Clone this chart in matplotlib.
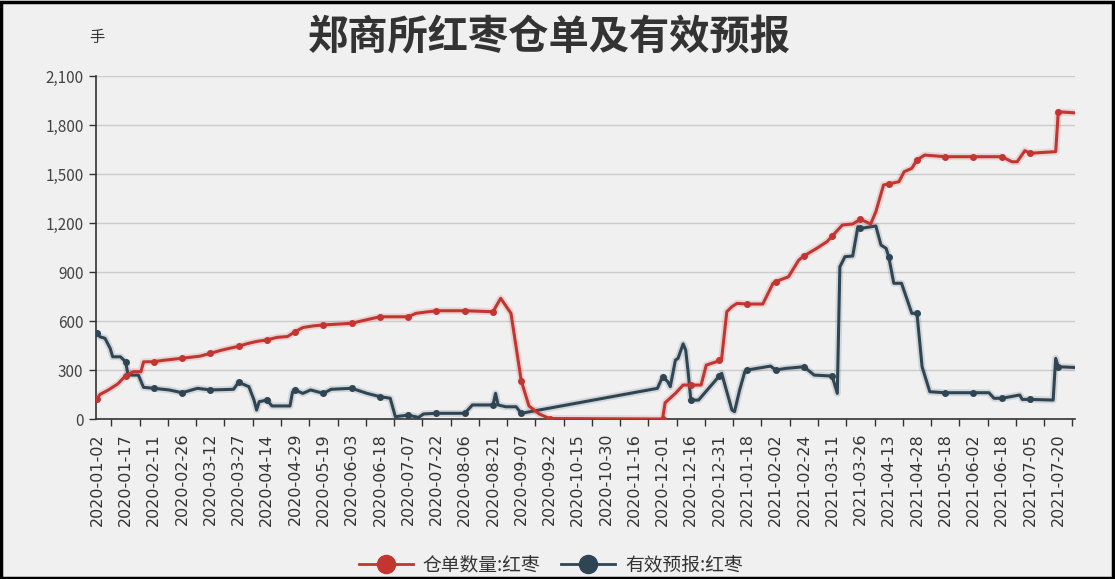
import numpy as np
import pandas as pd
import matplotlib
matplotlib.use("Agg")
import matplotlib.pyplot as plt
from matplotlib.lines import Line2D
from matplotlib.patches import Rectangle

plt.rcParams['font.family'] = ['Noto Sans CJK SC', 'DejaVu Sans']

# ---------------- data ----------------
title = "郑商所红枣仓单及有效预报"
unit = "手"
series_names = ["仓单数量:红枣", "有效预报:红枣"]

start_date = "2020-01-02"
end_date = "2021-07-28"
holidays = ["2020-01-24", "2020-01-27", "2020-01-28", "2020-01-29", "2020-01-30",
            "2020-01-31", "2020-04-06", "2020-05-01", "2020-05-04", "2020-05-05",
            "2020-06-25", "2020-06-26", "2020-10-01", "2020-10-02", "2020-10-05",
            "2020-10-06", "2020-10-07", "2020-10-08",
            "2021-01-01", "2021-02-11", "2021-02-12", "2021-02-15", "2021-02-16",
            "2021-02-17", "2021-04-05", "2021-05-03", "2021-05-04", "2021-05-05",
            "2021-06-14"]

warrant_dates = ["2020-01-02", "2020-01-03", "2020-01-08", "2020-01-14", "2020-01-17",
                 "2020-01-22", "2020-02-04", "2020-02-05", "2020-02-11", "2020-02-17",
                 "2020-02-26", "2020-03-06", "2020-03-12", "2020-03-18", "2020-03-24",
                 "2020-03-27", "2020-04-01", "2020-04-08", "2020-04-14", "2020-04-20",
                 "2020-04-24", "2020-04-29", "2020-05-07", "2020-05-13", "2020-05-19",
                 "2020-06-03", "2020-06-10", "2020-06-18", "2020-07-07", "2020-07-10",
                 "2020-07-22", "2020-08-06", "2020-08-21", "2020-08-26", "2020-09-01",
                 "2020-09-07", "2020-09-10", "2020-09-16", "2020-09-22", "2020-12-01",
                 "2020-12-02", "2020-12-08", "2020-12-11", "2020-12-16", "2020-12-22",
                 "2020-12-24", "2020-12-30", "2020-12-31", "2021-01-04", "2021-01-06",
                 "2021-01-08", "2021-01-12", "2021-01-18", "2021-01-26", "2021-02-01",
                 "2021-02-02", "2021-02-09", "2021-02-22", "2021-02-24", "2021-03-03",
                 "2021-03-09", "2021-03-11", "2021-03-17", "2021-03-23", "2021-03-26",
                 "2021-04-01", "2021-04-06", "2021-04-09", "2021-04-13", "2021-04-19",
                 "2021-04-21", "2021-04-26", "2021-04-28", "2021-05-06", "2021-05-18",
                 "2021-06-02", "2021-06-18", "2021-06-24", "2021-06-28", "2021-07-01",
                 "2021-07-05", "2021-07-19", "2021-07-20", "2021-07-28"]
warrant_values = [125, 150, 175, 215, 265,
                  290, 290, 350, 351, 360,
                  372, 385, 402, 420, 435,
                  445, 460, 475, 484, 500,
                  505, 535, 560, 570, 576,
                  586, 605, 626, 626, 647,
                  663, 663, 657, 739, 647,
                  234, 80, 31, 3, 0,
                  100, 157, 208, 208, 208,
                  330, 351, 361, 371, 657,
                  688, 708, 704, 704, 831,
                  841, 871, 973, 998, 1045,
                  1086, 1120, 1188, 1194, 1223,
                  1194, 1269, 1433, 1439, 1453,
                  1514, 1535, 1586, 1616, 1606,
                  1606, 1606, 1575, 1575, 1643,
                  1627, 1637, 1881, 1875]

forecast_dates = ["2020-01-02", "2020-01-03", "2020-01-07", "2020-01-09", "2020-01-10",
                  "2020-01-15", "2020-01-17", "2020-01-20", "2020-02-03", "2020-02-05",
                  "2020-02-11", "2020-02-19", "2020-02-26", "2020-03-05", "2020-03-12",
                  "2020-03-19", "2020-03-25", "2020-03-27", "2020-04-02", "2020-04-07",
                  "2020-04-08", "2020-04-09", "2020-04-14", "2020-04-16", "2020-04-27",
                  "2020-04-28", "2020-04-29", "2020-05-07", "2020-05-12", "2020-05-19",
                  "2020-05-22", "2020-06-03", "2020-06-11", "2020-06-18", "2020-06-24",
                  "2020-06-30", "2020-07-07", "2020-07-13", "2020-07-15", "2020-07-22",
                  "2020-08-06", "2020-08-11", "2020-08-20", "2020-08-21", "2020-08-24",
                  "2020-08-25", "2020-08-28", "2020-09-03", "2020-09-07", "2020-11-27",
                  "2020-12-01", "2020-12-03", "2020-12-04", "2020-12-08", "2020-12-09",
                  "2020-12-11", "2020-12-14", "2020-12-15", "2020-12-16", "2020-12-21",
                  "2020-12-31", "2021-01-04", "2021-01-08", "2021-01-11", "2021-01-13",
                  "2021-01-15", "2021-01-18", "2021-01-29", "2021-02-02", "2021-02-08",
                  "2021-02-24", "2021-03-02", "2021-03-11", "2021-03-15", "2021-03-16",
                  "2021-03-18", "2021-03-23", "2021-03-25", "2021-03-26", "2021-04-06",
                  "2021-04-08", "2021-04-12", "2021-04-13", "2021-04-15", "2021-04-20",
                  "2021-04-26", "2021-04-28", "2021-04-30", "2021-05-10", "2021-05-18",
                  "2021-06-02", "2021-06-10", "2021-06-15", "2021-06-18", "2021-06-29",
                  "2021-06-30", "2021-07-05", "2021-07-16", "2021-07-19", "2021-07-20",
                  "2021-07-28"]
forecast_values = [525, 504, 494, 433, 381,
                   381, 351, 269, 269, 194,
                   188, 178, 161, 188, 178,
                   180, 182, 225, 198, 116,
                   55, 106, 116, 80, 80,
                   167, 178, 157, 178, 157,
                   182, 188, 157, 137, 127,
                   14, 24, 10, 31, 35,
                   35, 86, 86, 86, 157,
                   86, 75, 75, 35, 188,
                   259, 229, 198, 361, 371,
                   460, 422, 280, 116, 116,
                   262, 280, 55, 45, 178,
                   290, 300, 324, 300, 310,
                   320, 269, 263, 157, 932,
                   994, 998, 1177, 1167, 1182,
                   1065, 1045, 994, 831, 831,
                   647, 647, 320, 167, 161,
                   161, 161, 127, 127, 147,
                   120, 120, 116, 371, 320,
                   316]

yticks = [0, 300, 600, 900, 1200, 1500, 1800, 2100]
ytick_labels = ["0", "300", "600", "900", "1,200", "1,500", "1,800", "2,100"]
label_step = 11

red = "#c23531"
navy = "#2f4554"
bg = "#f0f0f0"

# ---------------- categories ----------------
days = pd.bdate_range(start_date, end_date)
days = days[~days.isin(pd.to_datetime(holidays))]
categories = [d.strftime("%Y-%m-%d") for d in days]
pos = {c: i for i, c in enumerate(categories)}
label_idx = list(range(0, len(categories), label_step))
label_set = set(categories[i] for i in label_idx)

fig = plt.figure(figsize=(11.15, 5.79), dpi=100, facecolor=bg)
ax = fig.add_axes([0.0861, 0.2763, 0.9641 - 0.0861, 0.8687 - 0.2763])
ax.set_facecolor(bg)

def draw(dates, vals, color, z):
    xs = np.array([pos[d] for d in dates])
    ys = np.array(vals, dtype=float)
    ax.plot(xs, ys, color=color, lw=5, alpha=0.15, zorder=z, solid_capstyle='round')
    ax.plot(xs, ys, color=color, lw=2.2, zorder=z + 0.1, solid_joinstyle='round')
    mk = [i for i, d in enumerate(dates) if d in label_set]
    ax.plot(xs[mk], ys[mk], 'o', color=color, ms=4, zorder=z + 0.2)

draw(forecast_dates, forecast_values, navy, 3)
draw(warrant_dates, warrant_values, red, 4)

ax.set_xlim(-0.5, len(categories) - 0.5)
ax.set_ylim(0, 2100)
ax.set_yticks(yticks)
ax.set_yticklabels(ytick_labels, fontsize=11, color="#444444")
ax.yaxis.grid(True, color="#cccccc", lw=1)
ax.set_axisbelow(True)

ax.set_xticks(label_idx)
ax.set_xticklabels([categories[i] for i in label_idx], rotation=90, fontsize=11.5,
                   color="#333333", family=["DejaVu Sans"])
ax.set_xticks([i + 5.5 for i in label_idx], minor=True)
ax.tick_params(axis='x', which='major', length=0, pad=10)
ax.tick_params(axis='x', which='minor', length=5, width=1, color="#333333")
ax.tick_params(axis='y', length=5, width=1, color="#333333", pad=4)

for s in ["top", "right"]:
    ax.spines[s].set_visible(False)
for s in ["left", "bottom"]:
    ax.spines[s].set_color("#333333")
    ax.spines[s].set_linewidth(1.2)

fig.text(0.493, 0.936, title, ha="center", va="center", fontsize=29,
         fontweight="bold", color="#333333")
fig.text(0.087, 0.936, unit, ha="center", va="center", fontsize=11, color="#333333")

handles = [Line2D([0], [0], color=red, lw=2, marker='o', ms=13),
           Line2D([0], [0], color=navy, lw=2, marker='o', ms=13)]
fig.legend(handles, series_names, loc="center", bbox_to_anchor=(0.494, 0.024),
           ncol=2, frameon=False, fontsize=13.5, handlelength=2.9,
           columnspacing=1.1, handletextpad=0.5, labelcolor="#333333")

fig.add_artist(Rectangle((0.001, 0.002), 0.997, 0.995, transform=fig.transFigure,
                         fill=False, edgecolor="black", lw=2.5))

fig.savefig("out.png", dpi=100, facecolor=bg)
